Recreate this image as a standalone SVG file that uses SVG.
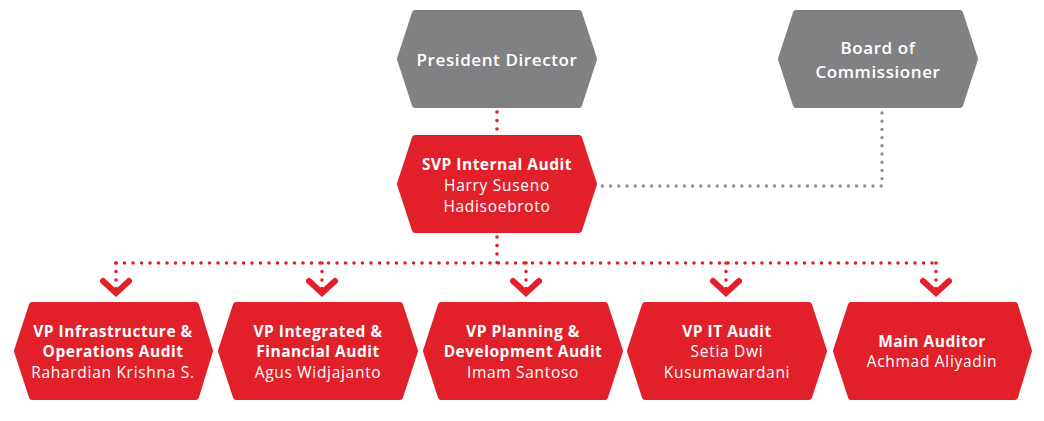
<svg xmlns="http://www.w3.org/2000/svg" width="1044" height="421" viewBox="0 0 1044 421">
<defs>
<style>
.red{fill:#E2202A;}
.gray{fill:#818184;}
.hex{stroke-linejoin:round;stroke-width:6;}
.red.hex{stroke:#E2202A;}
.gray.hex{stroke:#818184;}
text{font-family:"Open Sans","Liberation Sans",sans-serif;fill:#ffffff;text-anchor:middle;}
.b{font-weight:700;font-size:15.5px;letter-spacing:0.5px;}
.r{font-weight:400;font-size:15.5px;letter-spacing:0.7px;}
.big{font-weight:600;font-size:17px;letter-spacing:0.6px;}
.rd{fill:none;stroke:#E2202A;stroke-width:3.6;stroke-linecap:round;stroke-dasharray:0 8.5;}
.gd{fill:none;stroke:#8E8E91;stroke-width:3.4;stroke-linecap:round;stroke-dasharray:0 8.2;}
.chev{fill:none;stroke:#E2202A;stroke-width:6;stroke-linecap:round;stroke-linejoin:miter;}
</style>
</defs>
<g id="connectors">
<path class="rd" d="M497 112 V134"/>
<path class="rd" d="M497 237 V263"/>
<path class="rd" d="M116 263 H936"/>
<path class="rd" d="M116 263 V289"/>
<path class="rd" d="M322 263 V289"/>
<path class="rd" d="M526 263 V289"/>
<path class="rd" d="M726 263 V289"/>
<path class="rd" d="M936 263 V289"/>
<path class="gd" d="M882 113 V186 H601"/>
<polyline class="chev" points="103,281 116,293 129,281"/>
<polyline class="chev" points="309,281 322,293 335,281"/>
<polyline class="chev" points="513,281 526,293 539,281"/>
<polyline class="chev" points="713,281 726,293 739,281"/>
<polyline class="chev" points="923,281 936,293 949,281"/>
</g>
<g id="president-director">
<polygon class="gray hex" points="415,13 579,13 594,59 579,105 415,105 400,59"/>
<text class="big" x="497" y="66">President Director</text>
</g>
<g id="board-of-commissioner">
<polygon class="gray hex" points="796,13 960,13 975,59 960,105 796,105 781,59"/>
<text class="big" x="878" y="54">Board of</text>
<text class="big" x="878" y="78">Commissioner</text>
</g>
<g id="svp-internal-audit">
<polygon class="red hex" points="415,138 579,138 594,184 579,230 415,230 400,184"/>
<text class="b" x="497" y="170">SVP Internal Audit</text>
<text class="r" x="497" y="191">Harry Suseno</text>
<text class="r" x="497" y="212">Hadisoebroto</text>
</g>
<g id="vp-infrastructure">
<polygon class="red hex" points="32,305 196,305 210,351 196,397 32,397 17,351"/>
<text class="b" x="113" y="337">VP Infrastructure &amp;</text>
<text class="b" x="113" y="357">Operations Audit</text>
<text class="r" x="113" y="378">Rahardian Krishna S.</text>
</g>
<g id="vp-integrated">
<polygon class="red hex" points="236,305 400,305 415,351 400,397 236,397 221,351"/>
<text class="b" x="318" y="337">VP Integrated &amp;</text>
<text class="b" x="318" y="357">Financial Audit</text>
<text class="r" x="318" y="378">Agus Widjajanto</text>
</g>
<g id="vp-planning">
<polygon class="red hex" points="441,305 605,305 620,351 605,397 441,397 426,351"/>
<text class="b" x="523" y="337">VP Planning &amp;</text>
<text class="b" x="523" y="357">Development Audit</text>
<text class="r" x="523" y="378">Imam Santoso</text>
</g>
<g id="vp-it-audit">
<polygon class="red hex" points="645,305 809,305 824,351 809,397 645,397 630,351"/>
<text class="b" x="727" y="337">VP IT Audit</text>
<text class="r" x="727" y="357">Setia Dwi</text>
<text class="r" x="727" y="378">Kusumawardani</text>
</g>
<g id="main-auditor">
<polygon class="red hex" points="851,305 1015,305 1029,351 1015,397 851,397 836,351"/>
<text class="b" x="932" y="347">Main Auditor</text>
<text class="r" x="932" y="367">Achmad Aliyadin</text>
</g>
</svg>
